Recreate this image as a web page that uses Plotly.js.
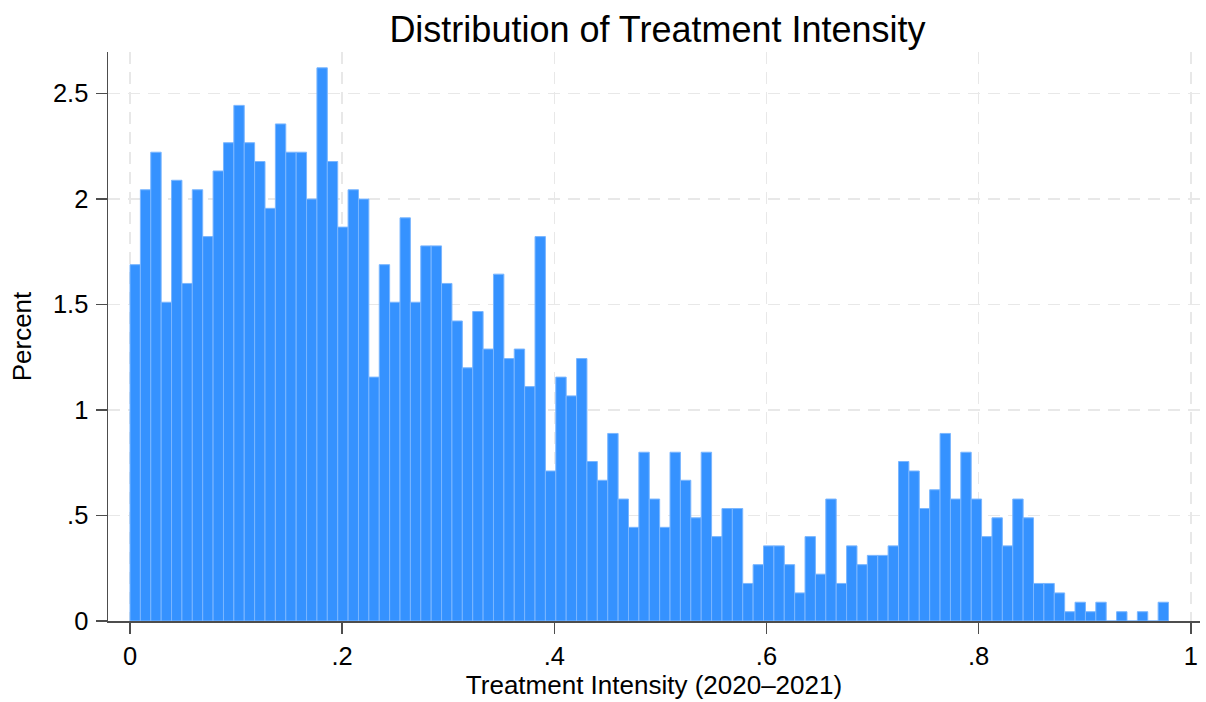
<!DOCTYPE html>
<html>
<head>
<meta charset="utf-8">
<script src="https://cdn.plot.ly/plotly-3.0.1.min.js"></script>
<style>
  html, body { margin: 0; padding: 0; background: #ffffff; }
  #chart { width: 1206px; height: 702px; }
</style>
</head>
<body>
<div id="chart"></div>
<script>
// Histogram bins (Stata-style, 100 bins starting at 0)
const binStart = 0;
const binWidth = 0.00979;

const percent = [
  1.689, 2.044, 2.222, 1.511, 2.089, 1.600, 2.044, 1.822, 2.133, 2.267,
  2.444, 2.267, 2.178, 1.956, 2.356, 2.222, 2.222, 2.000, 2.622, 2.178,
  1.867, 2.044, 2.000, 1.156, 1.689, 1.511, 1.911, 1.511, 1.778, 1.778,
  1.600, 1.422, 1.200, 1.467, 1.289, 1.644, 1.244, 1.289, 1.111, 1.822,
  0.711, 1.156, 1.067, 1.244, 0.756, 0.667, 0.889, 0.578, 0.444, 0.800,
  0.578, 0.444, 0.800, 0.667, 0.489, 0.800, 0.400, 0.533, 0.533, 0.178,
  0.267, 0.356, 0.356, 0.267, 0.133, 0.400, 0.222, 0.578, 0.178, 0.356,
  0.267, 0.311, 0.311, 0.356, 0.756, 0.711, 0.533, 0.622, 0.889, 0.578,
  0.800, 0.578, 0.400, 0.489, 0.356, 0.578, 0.489, 0.178, 0.178, 0.133,
  0.044, 0.089, 0.044, 0.089, 0.000, 0.044, 0.000, 0.044, 0.000, 0.089
];

const xTickVals = [0, 0.2, 0.4, 0.6, 0.8, 1];
const xTickText = ['0', '.2', '.4', '.6', '.8', '1'];
const yTickVals = [0, 0.5, 1, 1.5, 2, 2.5];
const yTickText = ['0', '.5', '1', '1.5', '2', '2.5'];

const titleText = 'Distribution of Treatment Intensity';
const xTitleText = 'Treatment Intensity (2020\u20132021)';
const yTitleText = 'Percent';

const binCenters = percent.map((_, i) => binStart + (i + 0.5) * binWidth);

const FONT = '"Liberation Sans", Arial, "DejaVu Sans", sans-serif';
const AXIS_COLOR = '#4d4d4d';
const GRID_COLOR = '#e8e8e8';

const trace = {
  type: 'bar',
  x: binCenters,
  y: percent,
  width: percent.map(() => binWidth),
  marker: {
    color: '#3592ff',
    line: { color: '#7ab6ff', width: 1 }
  },
  hoverinfo: 'skip'
};

const layout = {
  width: 1206,
  height: 702,
  paper_bgcolor: '#ffffff',
  plot_bgcolor: '#ffffff',
  margin: { l: 108, r: 6, t: 52, b: 81, pad: 0 },
  showlegend: false,
  bargap: 0,
  font: { family: FONT, color: '#000000', size: 25.5 },
  title: {
    text: titleText,
    font: { family: FONT, size: 36, color: '#000000' },
    x: 657.5 / 1206,
    xref: 'container',
    xanchor: 'center',
    y: 1 - 29.5 / 702,
    yref: 'container',
    yanchor: 'middle'
  },
  xaxis: {
    range: [-0.02074, 1.00867],
    tickvals: xTickVals,
    ticktext: xTickText,
    ticks: 'outside',
    ticklen: 11,
    tickwidth: 1.5,
    tickcolor: AXIS_COLOR,
    showline: true,
    linecolor: AXIS_COLOR,
    linewidth: 1.5,
    showgrid: true,
    gridcolor: GRID_COLOR,
    gridwidth: 1.5,
    griddash: '12px,8px',
    zeroline: false,
    tickfont: { family: FONT, size: 25.5, color: '#000000' },
    ticklabelstandoff: 1,
    title: {
      text: xTitleText,
      font: { family: FONT, size: 26, color: '#000000' },
      standoff: 6
    },
    fixedrange: true
  },
  yaxis: {
    range: [0, 2.697],
    tickvals: yTickVals,
    ticktext: yTickText,
    ticks: 'outside',
    ticklen: 11,
    tickwidth: 1.5,
    tickcolor: AXIS_COLOR,
    showline: true,
    linecolor: AXIS_COLOR,
    linewidth: 1.5,
    showgrid: true,
    gridcolor: GRID_COLOR,
    gridwidth: 1.5,
    griddash: '12px,8px',
    zeroline: false,
    tickfont: { family: FONT, size: 25.5, color: '#000000' },
    ticklabelstandoff: 2,
    title: {
      text: yTitleText,
      font: { family: FONT, size: 26, color: '#000000' },
      standoff: 14
    },
    fixedrange: true
  }
};

Plotly.newPlot('chart', [trace], layout, { displayModeBar: false, staticPlot: true, responsive: false });
</script>
</body>
</html>
